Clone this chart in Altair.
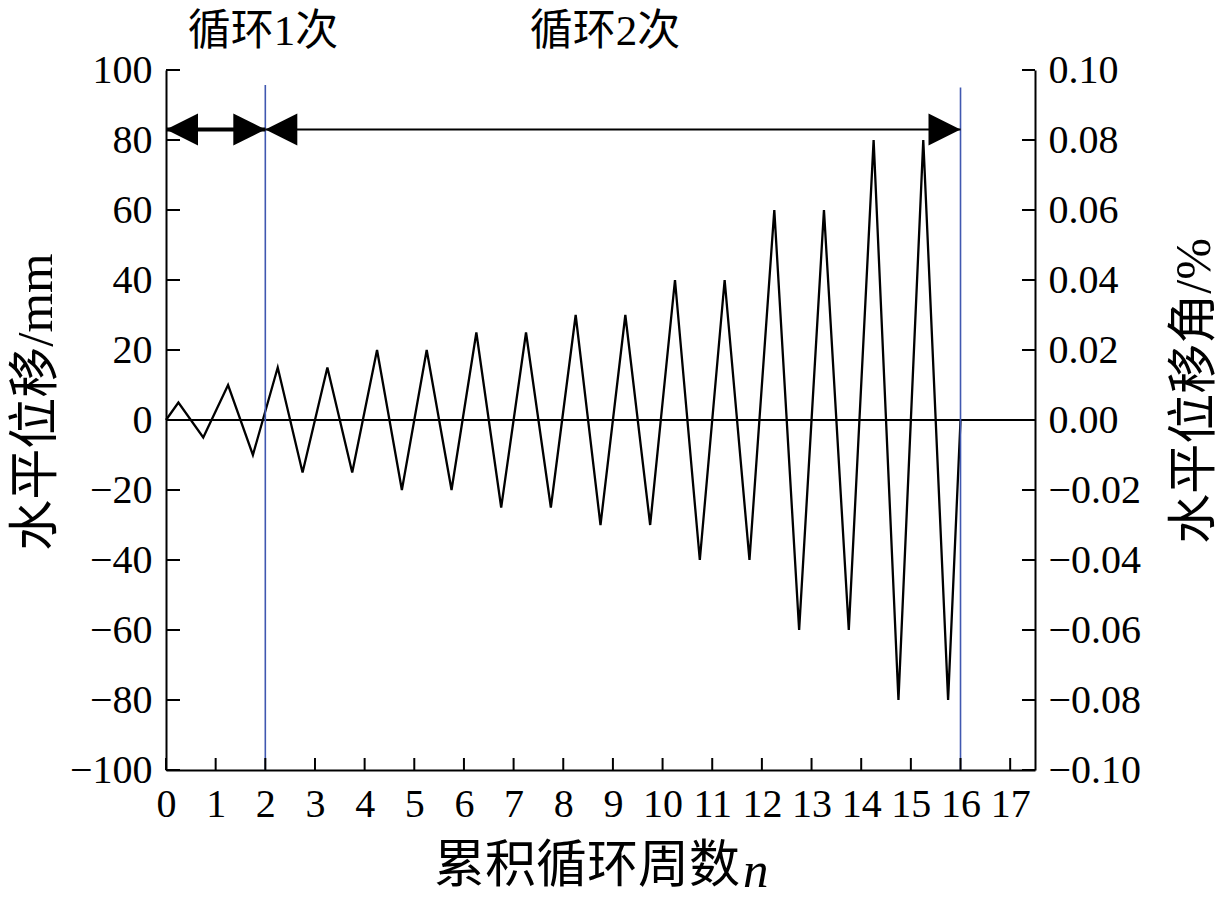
import altair as alt
import pandas as pd

# ---------------- data ----------------
cycle_n = [0, 0.25, 0.75, 1.25, 1.75, 2.25, 2.75, 3.25, 3.75, 4.25, 4.75,
           5.25, 5.75, 6.25, 6.75, 7.25, 7.75, 8.25, 8.75, 9.25, 9.75,
           10.25, 10.75, 11.25, 11.75, 12.25, 12.75, 13.25, 13.75,
           14.25, 14.75, 15.25, 15.75, 16.0]
displacement = [0, 5, -5, 10, -10, 15, -15, 15, -15, 20, -20, 20, -20,
                25, -25, 25, -25, 30, -30, 30, -30, 40, -40, 40, -40,
                60, -60, 60, -60, 80, -80, 80, -80, 0]

x_ticks = list(range(0, 18))
y_ticks = list(range(-100, 101, 20))
angle_ticks = [-0.10, -0.08, -0.06, -0.04, -0.02, 0.0, 0.02, 0.04, 0.06, 0.08, 0.10]

phase_start = [0, 2]
phase_end = [2, 16]
arrow_level = 83
boundary_n = [2, 16]
boundary_top = [95.7, 95.0]

phase_labels = ["循环1次", "循环2次"]

# ---------------- styles ----------------
W, H = 869, 700
LATIN = "Liberation Serif, Times New Roman, serif"
MIXED = "Liberation Serif, Noto Sans CJK SC, serif"

xs = alt.Scale(domain=[0, 17.5], nice=False, zero=False)
ys = alt.Scale(domain=[-100, 100], nice=False, zero=False)
ys_r = alt.Scale(domain=[-0.1, 0.1], nice=False, zero=False)

ax_common = dict(grid=False, ticks=False, domainColor="black", domainWidth=2,
                 labelColor="black", labelFont=LATIN, labelFontSize=40,
                 labelFlush=False, labelOverlap=False, title=None)

# the same x axis everywhere, so the shared axis merges cleanly
x_axis = alt.Axis(values=x_ticks, format="d", labelPadding=14, orient="bottom", **ax_common)

curve_df = pd.DataFrame({"n": cycle_n, "d": displacement})
line = alt.Chart(curve_df).mark_line(color="black", strokeWidth=2.3).encode(
    x=alt.X("n:Q", scale=xs, axis=x_axis),
    y=alt.Y("d:Q", scale=ys, axis=alt.Axis(values=y_ticks, format="d", labelPadding=14, orient="left", **ax_common)),
    order="n:Q",
)

zero_df = pd.DataFrame({"a": [0], "b": [17.5], "v": [0]})
zero = alt.Chart(zero_df).mark_rule(color="black", strokeWidth=1.8).encode(
    x=alt.X("a:Q", scale=xs, axis=x_axis), x2="b:Q",
    y=alt.Y("v:Q", scale=ys, axis=None),
)

bnd_df = pd.DataFrame({"n": boundary_n, "top": boundary_top, "bot": [-100, -100]})
bounds = alt.Chart(bnd_df).mark_rule(color="#4058b0", strokeWidth=1.6).encode(
    x=alt.X("n:Q", scale=xs, axis=x_axis),
    y=alt.Y("top:Q", scale=ys, axis=None), y2="bot:Q",
)

arr_df = pd.DataFrame({"s": phase_start, "e": phase_end, "lvl": [arrow_level] * 2})
shaft1 = alt.Chart(arr_df.iloc[[0]]).mark_rule(color="black", strokeWidth=4).encode(
    x=alt.X("s:Q", scale=xs, axis=x_axis), x2="e:Q",
    y=alt.Y("lvl:Q", scale=ys, axis=None),
)
shaft2 = alt.Chart(arr_df.iloc[[1]]).mark_rule(color="black", strokeWidth=2).encode(
    x=alt.X("s:Q", scale=xs, axis=x_axis), x2="e:Q",
    y=alt.Y("lvl:Q", scale=ys, axis=None),
)
LEFT_HEAD = "M0,0L2,-1L2,1Z"
RIGHT_HEAD = "M0,0L-2,-1L-2,1Z"
heads_df = pd.DataFrame({
    "tip": phase_start + phase_end,
    "dir": ["left", "left", "right", "right"],
    "lvl": [arrow_level] * 4,
})
heads = alt.Chart(heads_df).mark_point(filled=True, color="black", opacity=1, size=1024, strokeWidth=0).encode(
    x=alt.X("tip:Q", scale=xs, axis=x_axis),
    y=alt.Y("lvl:Q", scale=ys, axis=None),
    shape=alt.Shape("dir:N", scale=alt.Scale(domain=["left", "right"], range=[LEFT_HEAD, RIGHT_HEAD]), legend=None),
)

# inward tick marks
lt_df = pd.DataFrame({"v": y_ticks})
left_ticks = alt.Chart(lt_df).mark_rule(color="black", strokeWidth=2).encode(
    y=alt.Y("v:Q", scale=ys, axis=None), x=alt.value(0), x2=alt.value(14),
)
bt_df = pd.DataFrame({"v": x_ticks})
bottom_ticks = alt.Chart(bt_df).mark_rule(color="black", strokeWidth=2).encode(
    x=alt.X("v:Q", scale=xs, axis=x_axis), y=alt.value(H), y2=alt.value(H - 12),
)
rt_df = pd.DataFrame({"v": angle_ticks})
right_ticks = alt.Chart(rt_df).mark_rule(color="black", strokeWidth=2).encode(
    y=alt.Y("v:Q", scale=ys_r,
            axis=alt.Axis(orient="right", values=angle_ticks, format=".2f", labelPadding=13, **ax_common)),
    x=alt.value(W), x2=alt.value(W - 13),
)

one = alt.Data(values=[{}])
txt = dict(color="black", font=MIXED)
lab1 = alt.Chart(one).mark_text(text=phase_labels[0], fontSize=43, align="center", baseline="middle", **txt).encode(
    x=alt.value(97), y=alt.value(-38))
lab2 = alt.Chart(one).mark_text(text=phase_labels[1], fontSize=43, align="center", baseline="middle", **txt).encode(
    x=alt.value(439), y=alt.value(-38))
ytitle = alt.Chart(one).mark_text(text="水平位移/mm", fontSize=51, angle=270, align="center", baseline="middle", **txt).encode(
    x=alt.value(-129), y=alt.value(332))
xtitle = alt.Chart(one).mark_text(text="累积循环周数", fontSize=51, align="right", baseline="middle", **txt).encode(
    x=alt.value(574), y=alt.value(797))
xtitle_n = alt.Chart(one).mark_text(text="n", fontSize=51, fontStyle="italic", align="left", baseline="alphabetic",
                                    color="black", font=LATIN).encode(
    x=alt.value(577), y=alt.value(817))
rtitle = alt.Chart(one).mark_text(text="水平位移角/%", fontSize=50, angle=270, align="center", baseline="middle", **txt).encode(
    x=alt.value(1029), y=alt.value(321))

chart = alt.layer(line, zero, bounds, shaft1, shaft2, heads, left_ticks, bottom_ticks, right_ticks,
                  lab1, lab2, ytitle, xtitle, xtitle_n, rtitle).resolve_scale(y="independent").properties(
    width=W, height=H,
    autosize=alt.AutoSizeParams(type="none"),
    padding={"left": 158, "top": 62, "right": 187, "bottom": 129},
    background="white",
).configure_view(strokeWidth=0).configure_axis(labelFont=LATIN, labelColor="black")

chart.save("out.html", embed_options={"renderer": "svg", "actions": False})
